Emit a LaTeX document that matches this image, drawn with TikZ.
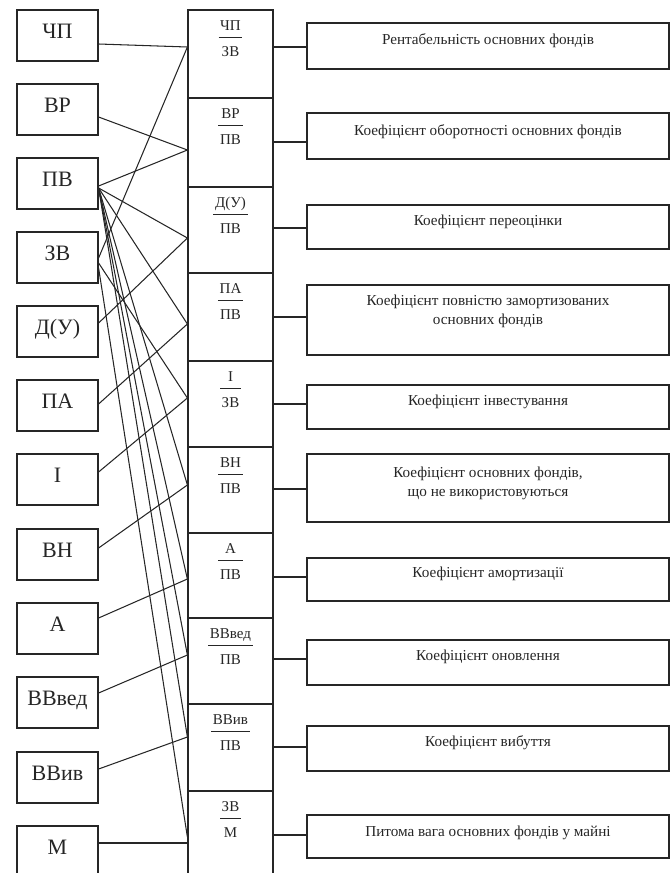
\documentclass[tikz,border=0pt]{standalone}
\usepackage{fontspec}
\setmainfont{Liberation Serif}
\usetikzlibrary{calc}

% fraction inside a middle cell: numerator, bar, denominator
\newcommand\cellfrac[3]{%
  \node[frtext, anchor=base] (#1n) at ($(#1.north)+(0,21)$) {#2};
  \node[frtext, anchor=base] (#1d) at ($(#1.north)+(0,47.5)$) {#3};
  \coordinate (#1b) at ($(#1.north)+(0,28)$);
  \draw[frbar] (#1n.west |- #1b) -- (#1n.east |- #1b);
  \draw[frbar] (#1d.west |- #1b) -- (#1d.east |- #1b);
}

\begin{document}
\begin{tikzpicture}[x=1pt, y=-1pt,
  ink/.style={draw=black!85, line width=1.2pt},
  lbox/.style={ink, minimum width=81pt, minimum height=51pt, inner sep=0pt,
    font=\fontsize{22}{26}\selectfont, text=black!85,
    text height=15pt, text depth=10pt},
  mcell/.style={ink, minimum width=85pt, inner sep=0pt},
  rbox/.style={ink, minimum width=362pt, inner sep=0pt},
  frtext/.style={font=\fontsize{15}{18}\selectfont, text=black!85, inner sep=1.5pt},
  frbar/.style={draw=black!85, line width=1.1pt},
  rtext/.style={font=\fontsize{15.2}{19}\selectfont, text=black!85, align=center,
    inner sep=0pt, anchor=north},
  conn/.style={draw=black!85, line width=1.05pt}]

\useasboundingbox (0,0) rectangle (670,873);
\clip (0,0) rectangle (670,873);

% ---------- source indicators ----------
\node[lbox] (lchp)  at (57.5, 35.5)  {ЧП};
\node[lbox] (lvr)   at (57.5, 109.5) {ВР};
\node[lbox] (lpv)   at (57.5, 183.5) {ПВ};
\node[lbox] (lzv)   at (57.5, 257.5) {ЗВ};
\node[lbox] (ldu)   at (57.5, 331.5) {Д(У)};
\node[lbox] (lpa)   at (57.5, 405.5) {ПА};
\node[lbox] (li)    at (57.5, 479.5) {І};
\node[lbox] (lvn)   at (57.5, 554.5) {ВН};
\node[lbox] (la)    at (57.5, 628.5) {А};
\node[lbox] (lvved) at (57.5, 702.5) {ВВвед};
\node[lbox] (lvviv) at (57.5, 777.5) {ВВив};
\node[lbox] (lm)    at (57.5, 851.5) {М};

% ---------- ratio column ----------
\node[mcell, minimum height=88pt] (m1)  at (230.5, 54)    {};
\node[mcell, minimum height=89pt] (m2)  at (230.5, 142.5) {};
\node[mcell, minimum height=86pt] (m3)  at (230.5, 230)   {};
\node[mcell, minimum height=88pt] (m4)  at (230.5, 317)   {};
\node[mcell, minimum height=86pt] (m5)  at (230.5, 404)   {};
\node[mcell, minimum height=86pt] (m6)  at (230.5, 490)   {};
\node[mcell, minimum height=85pt] (m7)  at (230.5, 575.5) {};
\node[mcell, minimum height=86pt] (m8)  at (230.5, 661)   {};
\node[mcell, minimum height=87pt] (m9)  at (230.5, 747.5) {};
\node[mcell, minimum height=86pt] (m10) at (230.5, 834)   {};

\cellfrac{m1}{ЧП}{ЗВ}
\cellfrac{m2}{ВР}{ПВ}
\cellfrac{m3}{Д(У)}{ПВ}
\cellfrac{m4}{ПА}{ПВ}
\cellfrac{m5}{І}{ЗВ}
\cellfrac{m6}{ВН}{ПВ}
\cellfrac{m7}{А}{ПВ}
\cellfrac{m8}{ВВвед}{ПВ}
\cellfrac{m9}{ВВив}{ПВ}
\cellfrac{m10}{ЗВ}{М}

% ---------- coefficient boxes ----------
\node[rbox, minimum height=46pt] (r1)  at (488, 46)    {};
\node[rbox, minimum height=46pt] (r2)  at (488, 136)   {};
\node[rbox, minimum height=44pt] (r3)  at (488, 227)   {};
\node[rbox, minimum height=70pt] (r4)  at (488, 320)   {};
\node[rbox, minimum height=44pt] (r5)  at (488, 407)   {};
\node[rbox, minimum height=68pt] (r6)  at (488, 488)   {};
\node[rbox, minimum height=43pt] (r7)  at (488, 579.5) {};
\node[rbox, minimum height=45pt] (r8)  at (488, 662.5) {};
\node[rbox, minimum height=45pt] (r9)  at (488, 748.5) {};
\node[rbox, minimum height=43pt] (r10) at (488, 836.5) {};

\node[rtext] (t1)  at ($(r1.north)+(0,11)$)  {Рентабельність основних фондів};
\node[rtext] (t2)  at ($(r2.north)+(0,12)$)  {Коефіцієнт оборотності основних фондів};
\node[rtext] (t3)  at ($(r3.north)+(0,10)$)  {Коефіцієнт переоцінки};
\node[rtext] (t4)  at ($(r4.north)+(0,10)$)  {Коефіцієнт повністю замортизованих\\основних фондів};
\node[rtext] (t5)  at ($(r5.north)+(0,10)$)  {Коефіцієнт інвестування};
\node[rtext] (t6)  at ($(r6.north)+(0,13)$)  {Коефіцієнт основних фондів,\\що не використовуються};
\node[rtext] (t7)  at ($(r7.north)+(0,9)$)   {Коефіцієнт амортизації};
\node[rtext] (t8)  at ($(r8.north)+(0,10)$)  {Коефіцієнт оновлення};
\node[rtext] (t9)  at ($(r9.north)+(0,10)$)  {Коефіцієнт вибуття};
\node[rtext] (t10) at ($(r10.north)+(0,11)$) {Питома вага основних фондів у майні};

% ---------- ratio cells to coefficient boxes ----------
\draw[conn] ($(m1.east |- r1.west)+(0,1)$)   -- ($(r1.west)+(0,1)$);
\draw[conn] ($(m2.east |- r2.west)+(0,6)$)   -- ($(r2.west)+(0,6)$);
\draw[conn] ($(m3.east |- r3.west)+(0,1)$)   -- ($(r3.west)+(0,1)$);
\draw[conn] ($(m4.east |- r4.west)+(0,-3)$)  -- ($(r4.west)+(0,-3)$);
\draw[conn] ($(m5.east |- r5.west)+(0,-3)$)  -- ($(r5.west)+(0,-3)$);
\draw[conn] ($(m6.east |- r6.west)+(0,1)$)   -- ($(r6.west)+(0,1)$);
\draw[conn] ($(m7.east |- r7.west)+(0,-2.5)$) -- ($(r7.west)+(0,-2.5)$);
\draw[conn] ($(m8.east |- r8.west)+(0,-3.5)$) -- ($(r8.west)+(0,-3.5)$);
\draw[conn] ($(m9.east |- r9.west)+(0,-1.5)$) -- ($(r9.west)+(0,-1.5)$);
\draw[conn] ($(m10.east |- r10.west)+(0,-1.5)$) -- ($(r10.west)+(0,-1.5)$);

% ---------- indicators to ratio cells ----------
\draw[conn] ($(lchp.east)+(0,8.5)$)   -- ($(m1.west)+(0,-7)$);
\draw[conn] ($(lzv.east)+(0,0.5)$)    -- ($(m1.west)+(0,-7)$);
\draw[conn] ($(lvr.east)+(0,7.5)$)    -- ($(m2.west)+(0,7.5)$);
\draw[conn] ($(lpv.east)+(0,2.5)$)    -- ($(m2.west)+(0,7.5)$);
\draw[conn] ($(lpv.east)+(0,4.5)$)    -- ($(m3.west)+(0,8)$);
\draw[conn] ($(ldu.east)+(0,-8.5)$)   -- ($(m3.west)+(0,8)$);
\draw[conn] ($(lpv.east)+(0,4.5)$)    -- ($(m4.west)+(0,7)$);
\draw[conn] ($(lpa.east)+(0,-1.5)$)   -- ($(m4.west)+(0,7)$);
\draw[conn] ($(lzv.east)+(0,5.5)$)    -- ($(m5.west)+(0,-6)$);
\draw[conn] ($(li.east)+(0,-7.5)$)    -- ($(m5.west)+(0,-6)$);
\draw[conn] ($(lpv.east)+(0,4.5)$)    -- ($(m6.west)+(0,-5)$);
\draw[conn] ($(lvn.east)+(0,-6.5)$)   -- ($(m6.west)+(0,-5)$);
\draw[conn] ($(lpv.east)+(0,4.5)$)    -- ($(m7.west)+(0,3.5)$);
\draw[conn] ($(la.east)+(0,-10.5)$)   -- ($(m7.west)+(0,3.5)$);
\draw[conn] ($(lpv.east)+(0,4.5)$)    -- ($(m8.west)+(0,-6)$);
\draw[conn] ($(lvved.east)+(0,-9.5)$) -- ($(m8.west)+(0,-6)$);
\draw[conn] ($(lpv.east)+(0,4.5)$)    -- ($(m9.west)+(0,-10.5)$);
\draw[conn] ($(lvviv.east)+(0,-8.5)$) -- ($(m9.west)+(0,-10.5)$);
\draw[conn] ($(lzv.east)+(0,10.5)$)   -- ($(m10.west)+(0,3)$);
\draw[conn] ($(lm.east)+(0,-8.5)$)    -- ($(m10.west)+(0,9)$);

\end{tikzpicture}
\end{document}
